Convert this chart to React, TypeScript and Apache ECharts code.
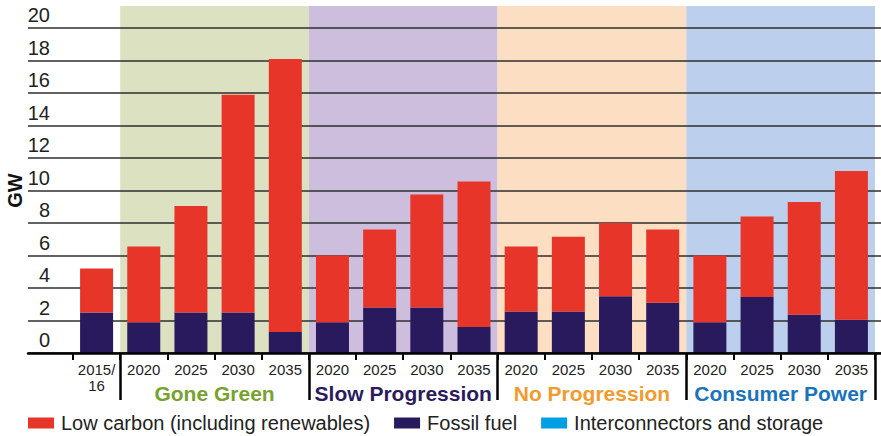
import React, { useEffect, useRef } from "react";
import * as echarts from "echarts";

const categories = [
  "2015/\n16",
  "2020", "2025", "2030", "2035",
  "2020", "2025", "2030", "2035",
  "2020", "2025", "2030", "2035",
  "2020", "2025", "2030", "2035",
];
const fossilFuel = [2.5, 1.9, 2.5, 2.5, 1.3, 1.9, 2.8, 2.8, 1.6, 2.55, 2.55, 3.5, 3.1, 1.9, 3.45, 2.35, 2.05];
const lowCarbon = [2.7, 4.65, 6.55, 13.4, 16.8, 4.1, 4.8, 6.95, 8.95, 4.0, 4.6, 4.5, 4.5, 4.1, 4.95, 6.95, 9.15];
const interconnectors = [0, 0, 0, 0, 0, 0, 0, 0, 0, 0, 0, 0, 0, 0, 0, 0, 0];
const scenarios = ["Gone Green", "Slow Progression", "No Progression", "Consumer Power"];
const scenarioStart = [1, 5, 9, 13];
const scenarioLength = 4;
const yTicks = { min: 0, max: 20, interval: 2 };

const FONT = "'Liberation Sans', Arial, Helvetica, sans-serif";
const bandColors = ["#dbe1c1", "#cebede", "#fcdfc3", "#bccfec"];
const labelColors = ["#78a22f", "#2b1b5e", "#f39a2e", "#1a74bb"];
const BAND_TOP_PX = 6;

export default function App() {
  const ref = useRef<HTMLDivElement>(null);
  useEffect(() => {
    if (!ref.current) return;
    const chart = echarts.init(ref.current, null, { renderer: "svg" });
    const bandData = scenarios.map((name, i) => [
      {
        name,
        xAxis: scenarioStart[i],
        y: BAND_TOP_PX,
        itemStyle: { color: bandColors[i] },
        label: { color: labelColors[i] },
      },
      { xAxis: scenarioStart[i] + scenarioLength, yAxis: 0 },
    ]);
    chart.setOption({
      animation: false,
      textStyle: { fontFamily: FONT },
      grid: [
        { left: 28, right: 0, top: 28, height: 325, outerBoundsMode: "none" },
        { left: 73, right: 6, top: 28, height: 325, outerBoundsMode: "none" },
      ],
      xAxis: [
        {
          gridIndex: 0,
          type: "value",
          min: 0,
          max: 1,
          z: 5,
          axisLine: { show: true, lineStyle: { color: "#000", width: 2.5 } },
          axisTick: { show: false },
          axisLabel: { show: false },
          splitLine: { show: false },
        },
        {
          gridIndex: 1,
          type: "category",
          data: categories,
          position: "bottom",
          z: 5,
          axisLine: { show: false },
          axisTick: { show: true, length: 7, lineStyle: { color: "#000", width: 2 } },
          axisLabel: {
            interval: 0,
            fontSize: 15,
            lineHeight: 16,
            margin: 8,
            color: "#222",
            fontFamily: FONT,
          },
        },
        {
          gridIndex: 1,
          type: "category",
          data: categories,
          position: "bottom",
          z: 5,
          axisLine: { show: false },
          axisLabel: { show: false },
          axisTick: {
            show: true,
            length: 47,
            interval: (idx: number) => scenarioStart.indexOf(idx) >= 0,
            lineStyle: { color: "#000", width: 2.5 },
          },
        },
        {
          gridIndex: 1,
          type: "value",
          min: 0,
          max: categories.length,
          show: false,
        },
      ],
      yAxis: [
        {
          gridIndex: 0,
          type: "value",
          min: yTicks.min,
          max: yTicks.max,
          interval: yTicks.interval,
          z: 2,
          name: "GW",
          nameLocation: "middle",
          nameGap: 3,
          nameRotate: 90,
          nameTextStyle: { fontSize: 20, fontWeight: "bold", color: "#111", fontFamily: FONT },
          axisLine: { show: false },
          axisTick: { show: false },
          axisLabel: { show: false },
          splitLine: { show: true, lineStyle: { color: "#2e2e2e", width: 1.6 } },
        },
        {
          gridIndex: 1,
          type: "value",
          min: yTicks.min,
          max: yTicks.max,
          interval: yTicks.interval,
          z: 2,
          axisLine: { show: false },
          axisTick: { show: false },
          splitLine: { show: false },
          axisLabel: {
            show: true,
            margin: 23,
            align: "right",
            verticalAlign: "bottom",
            padding: [0, 0, 3, 0],
            fontSize: 20,
            color: "#222",
            fontFamily: FONT,
          },
        },
      ],
      legend: {
        left: 28,
        top: 413,
        padding: 0,
        itemWidth: 26,
        itemHeight: 11,
        itemGap: 24,
        icon: "rect",
        data: ["Low carbon (including renewables)", "Fossil fuel", "Interconnectors and storage"],
        textStyle: { fontSize: 20, color: "#222", fontFamily: FONT, padding: [0, 0, 0, 2] },
      },
      series: [
        {
          type: "line",
          name: "bands",
          xAxisIndex: 3,
          yAxisIndex: 1,
          data: [],
          z: 0,
          clip: false,
          silent: true,
          markArea: {
            z: 0,
            silent: true,
            label: {
              show: true,
              position: "bottom",
              distance: 30,
              fontSize: 21,
              fontWeight: "bold",
              fontFamily: FONT,
            },
            data: bandData,
          },
        },
        {
          type: "bar",
          name: "Fossil fuel",
          xAxisIndex: 1,
          yAxisIndex: 1,
          stack: "total",
          barWidth: 33,
          z: 3,
          itemStyle: { color: "#29195d" },
          data: fossilFuel,
        },
        {
          type: "bar",
          name: "Low carbon (including renewables)",
          xAxisIndex: 1,
          yAxisIndex: 1,
          stack: "total",
          barWidth: 33,
          z: 3,
          itemStyle: { color: "#e8352a" },
          data: lowCarbon,
        },
        {
          type: "bar",
          name: "Interconnectors and storage",
          xAxisIndex: 1,
          yAxisIndex: 1,
          stack: "total",
          barWidth: 33,
          z: 3,
          itemStyle: { color: "#009fe3" },
          data: interconnectors,
        },
      ],
    });
    return () => chart.dispose();
  }, []);
  return (
    <div
      ref={ref}
      style={{ position: "fixed", left: 0, top: 0, width: 881, height: 436, background: "#fff" }}
    />
  );
}
